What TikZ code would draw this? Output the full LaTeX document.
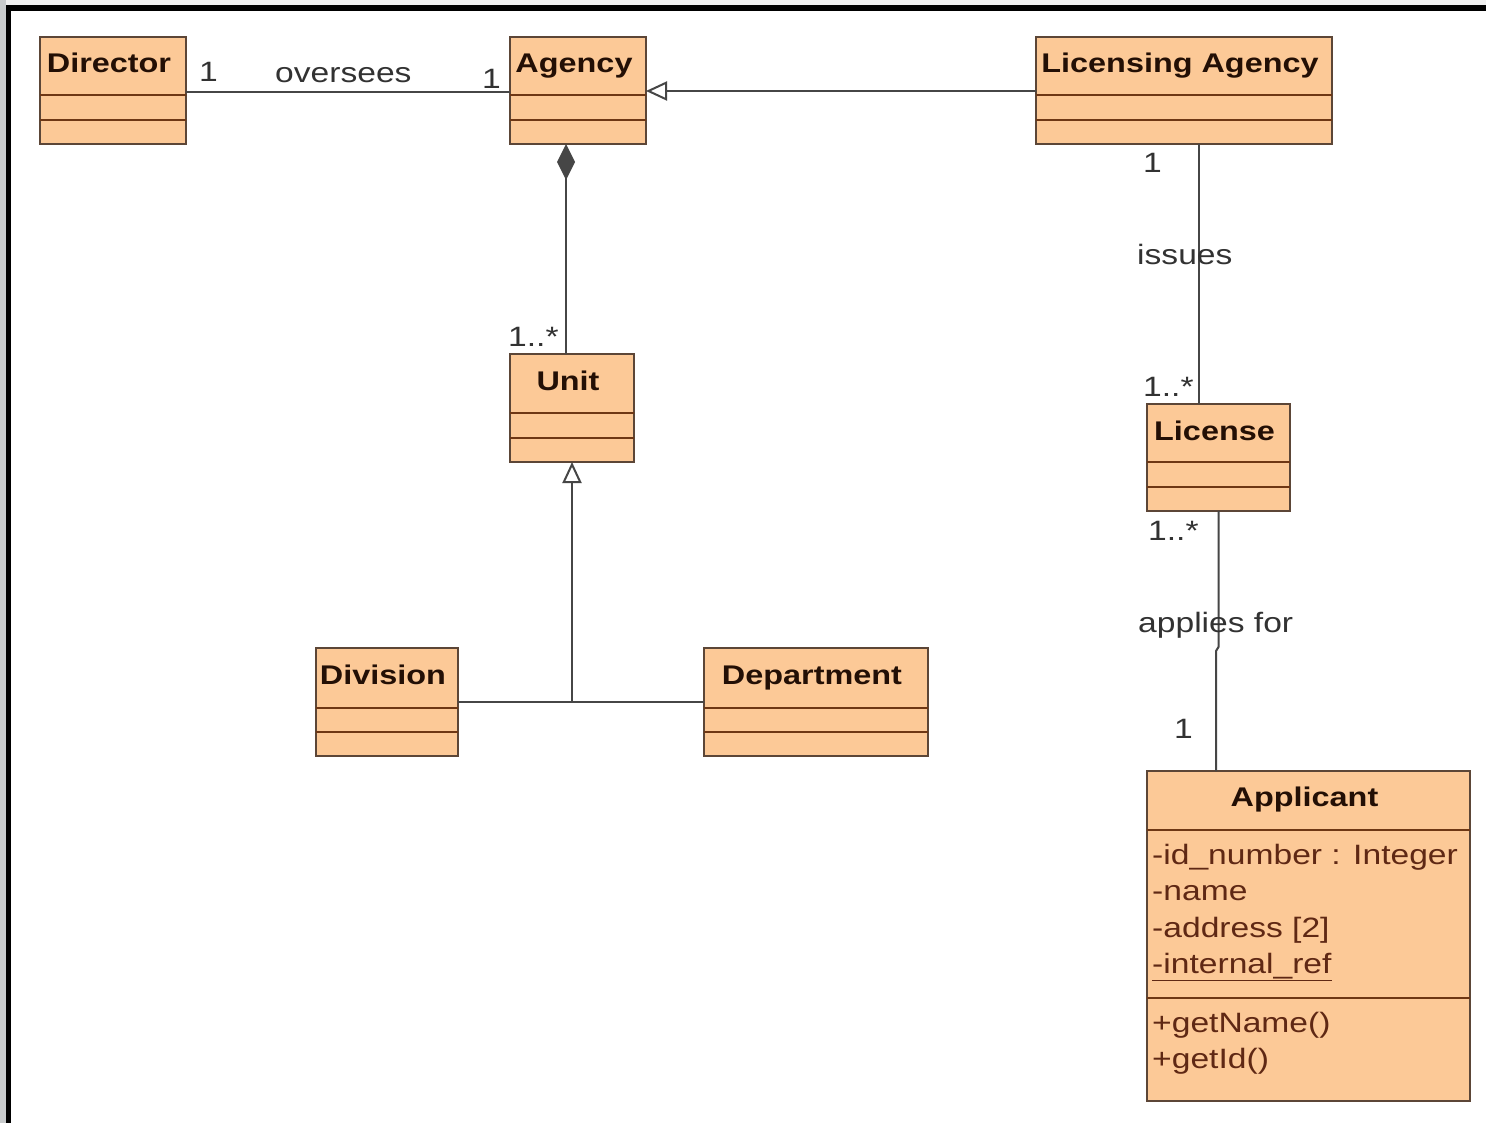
\documentclass[tikz,border=0pt]{standalone}
\usepackage{fontspec}
\setmainfont{Liberation Sans}
\usepackage{graphicx}
\usetikzlibrary{arrows.meta}

\definecolor{boxfill}{RGB}{252,201,151}
\definecolor{boxline}{RGB}{92,70,55}
\definecolor{divline}{RGB}{110,55,20}
\definecolor{titleink}{RGB}{35,15,5}
\definecolor{attrink}{RGB}{95,40,20}
\definecolor{wireink}{RGB}{70,70,70}
\definecolor{labelink}{RGB}{50,50,50}
\definecolor{topstrip}{RGB}{240,240,240}
\definecolor{sidestrip}{RGB}{200,203,204}

% text in the diagram is set slightly wide
\newcommand\stretchtext[1]{\scalebox{1.2}[1]{#1}}

\tikzset{
  classbox/.style={draw=boxline, line width=2pt, fill=boxfill, inner sep=0pt,
    outer sep=0pt, anchor=north west},
  divider/.style={draw=divline, line width=2pt},
  classtitle/.style={anchor=base, inner sep=0pt, text=titleink,
    font=\fontsize{27}{30}\selectfont\bfseries},
  member/.style={anchor=base west, inner sep=0pt, text=attrink,
    font=\fontsize{28}{32}\selectfont},
  mult/.style={anchor=base west, inner sep=0pt, text=labelink,
    font=\fontsize{28}{32}\selectfont},
  wire/.style={draw=wireink, line width=2pt},
  gen/.style={wire, -{Triangle[open, length=21pt, width=19pt]}},
  comp/.style={wire, {Diamond[length=36pt, width=18pt, fill=wireink]}-},
}

% #1 name, #2 x, #3 y, #4 width, #5 height, #6 first divider, #7 second divider, #8 title
\newcommand\umlclass[8]{%
  \node[classbox, minimum width=#4pt, minimum height=#5pt] (#1) at (#2,#3) {};
  \draw[divider] ([yshift=-#6pt]#1.north west) -- ([yshift=-#6pt]#1.north east);
  \draw[divider] ([yshift=-#7pt]#1.north west) -- ([yshift=-#7pt]#1.north east);
  \node[classtitle] (#1-name) at ([xshift=-4pt, yshift=-36pt]#1.north) {\stretchtext{#8}};
}

\begin{document}
\begin{tikzpicture}[x=1pt, y=-1pt]
  % page, frame
  \useasboundingbox (0,0) rectangle (1486,1123);
  \fill[white] (0,0) rectangle (1486,1123);
  \fill[topstrip] (0,0) rectangle (1486,5);
  \fill[sidestrip] (0,0) rectangle (6,1123);
  \fill[black] (6,5) rectangle (1486,11);
  \fill[black] (6,5) rectangle (11,1123);

  % classes
  \umlclass{director}{40}{37}{146}{107}{58}{83}{Director}
  \umlclass{agency}{510}{37}{136}{107}{58}{83}{Agency}
  \umlclass{licagency}{1036}{37}{296}{107}{58}{83}{Licensing Agency}
  \umlclass{unit}{510}{354}{124}{108}{59}{84}{Unit}
  \umlclass{license}{1147}{404}{143}{107}{58}{83}{License}
  \umlclass{division}{316}{648}{142}{108}{60}{84}{Division}
  \umlclass{department}{704}{648}{224}{108}{60}{84}{Department}

  \node[classbox, minimum width=323pt, minimum height=330pt] (applicant) at (1147,771) {};
  \draw[divider] ([yshift=-59pt]applicant.north west) -- ([yshift=-59pt]applicant.north east);
  \draw[divider] ([yshift=-227pt]applicant.north west) -- ([yshift=-227pt]applicant.north east);
  \node[classtitle] (applicant-name) at ([xshift=-4pt, yshift=-35pt]applicant.north) {\stretchtext{Applicant}};
  \node[member] (attr-id) at ([xshift=5pt, yshift=-93pt]applicant.north west) {\stretchtext{-id\_number : Integer}};
  \node[member] (attr-name) at ([xshift=5pt, yshift=-129.5pt]applicant.north west) {\stretchtext{-name}};
  \node[member] (attr-address) at ([xshift=5pt, yshift=-166pt]applicant.north west) {\stretchtext{-address [2]}};
  \node[member] (attr-ref) at ([xshift=5pt, yshift=-202.5pt]applicant.north west) {\stretchtext{\underline{-internal\_ref}}};
  \node[member] (op-name) at ([xshift=5pt, yshift=-261pt]applicant.north west) {\stretchtext{+getName()}};
  \node[member] (op-id) at ([xshift=5pt, yshift=-297pt]applicant.north west) {\stretchtext{+getId()}};

  % Director -- Agency
  \draw[wire] ([yshift=-1.5pt]director.east) -- ([yshift=-1.5pt]agency.west);
  \node[mult] (m-dir) at (199,82) {\stretchtext{1}};
  \node[mult] (lbl-oversees) at (275,83) {\stretchtext{oversees}};
  \node[mult] (m-agency) at (482,89) {\stretchtext{1}};

  % Licensing Agency is an Agency
  \draw[gen] ([yshift=-0.5pt]licagency.west) -- ([yshift=-0.5pt]agency.east);

  % Agency is composed of Units
  \draw[comp] ([xshift=-12pt]agency.south) -- ([xshift=-6pt]unit.north);
  \node[mult] (m-unit) at (508,346) {\stretchtext{1..*}};

  % Division and Department are Units
  \coordinate (junction) at (division.east -| unit.south);
  \draw[wire] (division.east) -- (department.west);
  \draw[gen] (junction) -- (unit.south);

  % Licensing Agency issues Licenses
  \draw[wire] ([xshift=15pt]licagency.south) -- ([xshift=-19.5pt]license.north);
  \node[mult] (m-lic-top) at (1143,173) {\stretchtext{1}};
  \node[mult] (lbl-issues) at (1137,265) {\stretchtext{issues}};
  \node[mult] (m-license-top) at (1143,396) {\stretchtext{1..*}};

  % Applicant applies for Licenses
  \coordinate (kink-a) at (1218.5,647);
  \coordinate (kink-b) at (1216,651);
  \draw[wire] (license.south) -- (kink-a) -- (kink-b) -- ([xshift=-92.5pt]applicant.north);
  \node[mult] (m-license-bot) at (1148,540) {\stretchtext{1..*}};
  \node[mult] (lbl-applies) at (1138,632) {\stretchtext{applies for}};
  \node[mult] (m-applicant) at (1174,738) {\stretchtext{1}};
\end{tikzpicture}
\end{document}
